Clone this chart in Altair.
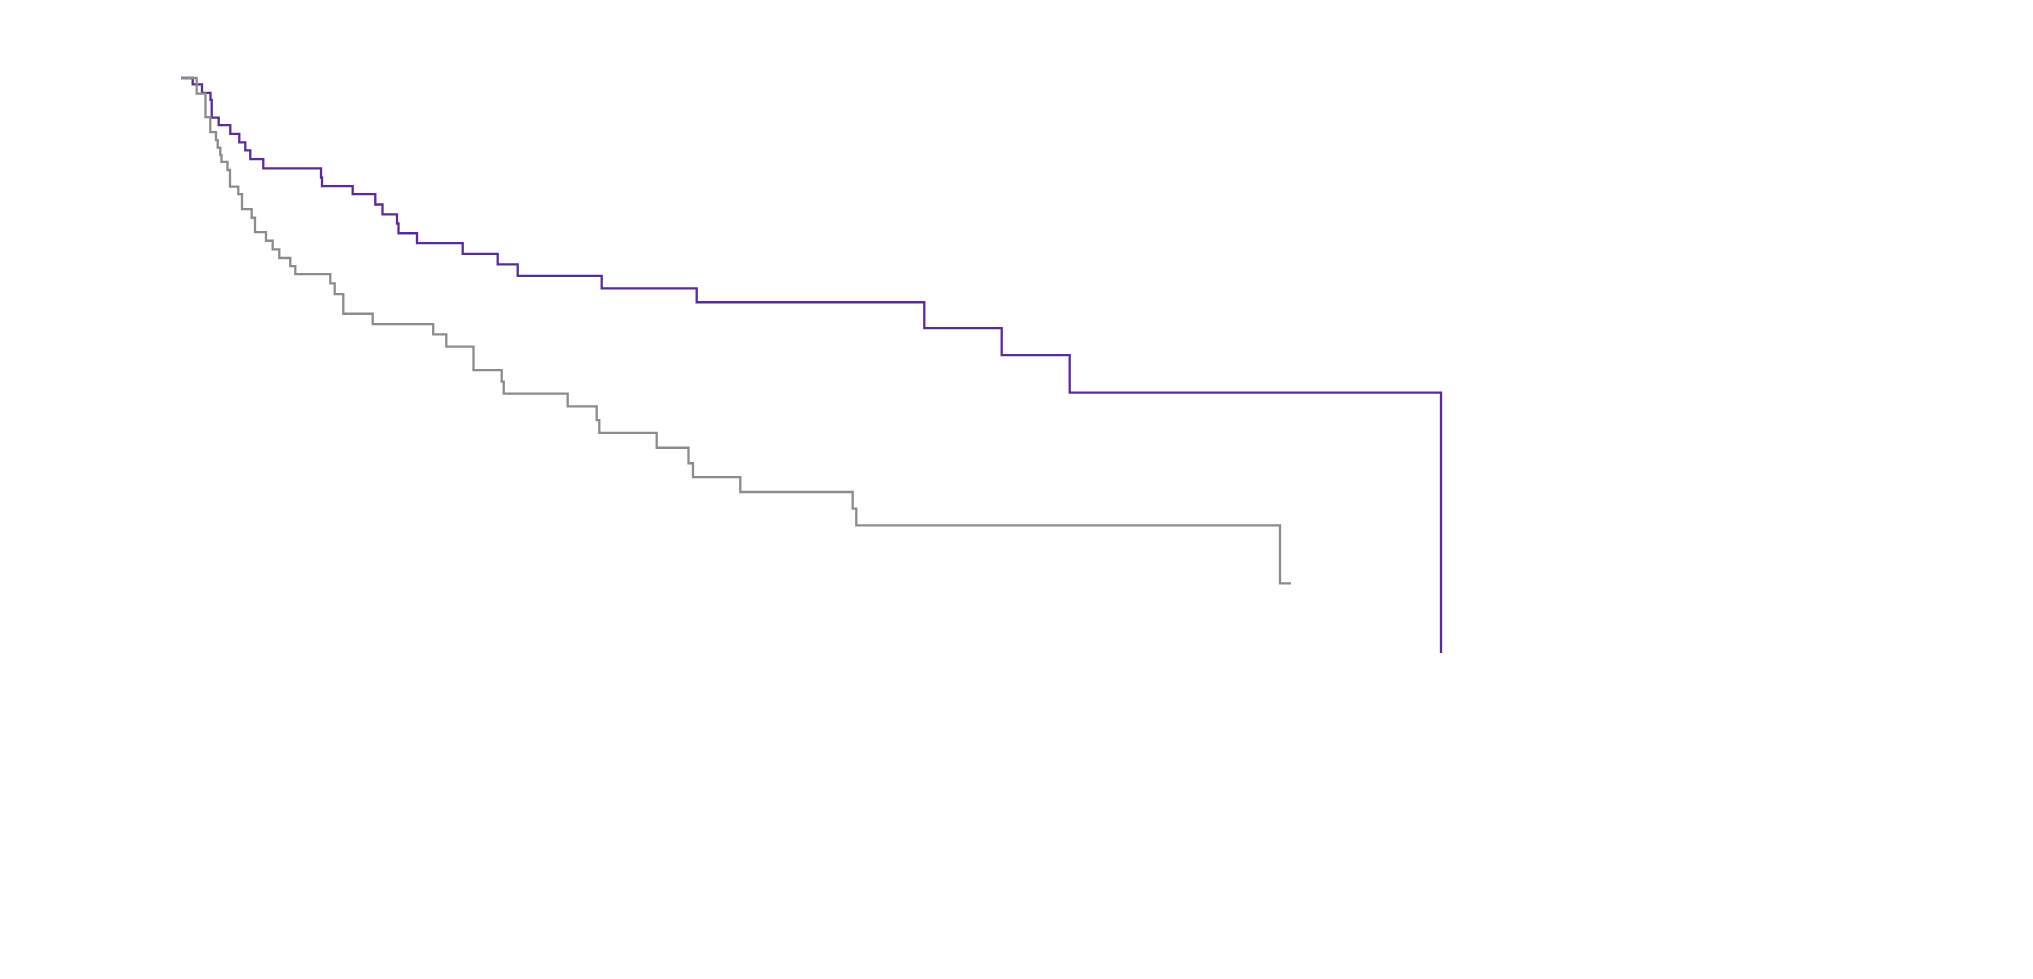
import altair as alt
import pandas as pd

# Kaplan-Meier style survival estimates (time in months, survival fraction)
purple_time = [0, 1.17, 2.1, 2.95, 3.07, 3.77, 4.93, 5.83, 6.43, 6.93, 8.23, 14.0, 14.1,
               17.17, 19.43, 20.15, 21.6, 21.75, 23.6, 28.17, 31.67, 33.67, 42.07, 51.57,
               74.33, 82.07, 88.87, 126.0]
purple_surv = [1.0, 0.989, 0.974, 0.962, 0.931, 0.918, 0.903, 0.888, 0.874, 0.859, 0.843,
               0.827, 0.812, 0.798, 0.780, 0.763, 0.747, 0.730, 0.713, 0.694, 0.676, 0.656,
               0.634, 0.610, 0.565, 0.518, 0.453, 0.0]

gray_time = [0, 1.57, 2.45, 2.93, 3.5, 3.67, 3.93, 4.05, 4.65, 4.9, 5.73, 6.1, 7.07, 7.4,
             8.5, 9.17, 9.83, 10.93, 11.43, 14.93, 15.37, 16.23, 19.17, 25.22, 26.53, 29.25,
             32.07, 32.27, 38.67, 41.57, 41.83, 47.57, 50.75, 51.2, 55.93, 67.17, 67.53,
             109.9, 111.0]
gray_surv = [1.0, 0.973, 0.932, 0.906, 0.892, 0.879, 0.866, 0.854, 0.840, 0.811, 0.798,
             0.772, 0.757, 0.732, 0.717, 0.702, 0.687, 0.673, 0.659, 0.643, 0.624, 0.590,
             0.572, 0.554, 0.533, 0.492, 0.472, 0.451, 0.429, 0.405, 0.383, 0.357, 0.330,
             0.306, 0.280, 0.251, 0.222, 0.121, 0.121]

purple_df = pd.DataFrame({"time": purple_time, "surv": purple_surv})
gray_df = pd.DataFrame({"time": gray_time, "surv": gray_surv})

x_enc = alt.X("time:Q", axis=None, scale=alt.Scale(domain=[0, 180], nice=False, zero=True))
y_enc = alt.Y("surv:Q", axis=None, scale=alt.Scale(domain=[0, 1], nice=False, zero=True))

purple = alt.Chart(purple_df).mark_line(
    interpolate="step-after", color="#5b2aa0", strokeWidth=2.3
).encode(x=x_enc, y=y_enc)

gray = alt.Chart(gray_df).mark_line(
    interpolate="step-after", color="#8c8c8c", strokeWidth=2.3
).encode(x=x_enc, y=y_enc)

chart = alt.layer(purple, gray).properties(
    width=1800,
    height=575,
    background="white",
    padding={"left": 168, "top": 65, "right": 5, "bottom": 5},
).configure_view(strokeWidth=0, stroke=None)

chart.save("out.html", embed_options={"renderer": "svg", "actions": False})
